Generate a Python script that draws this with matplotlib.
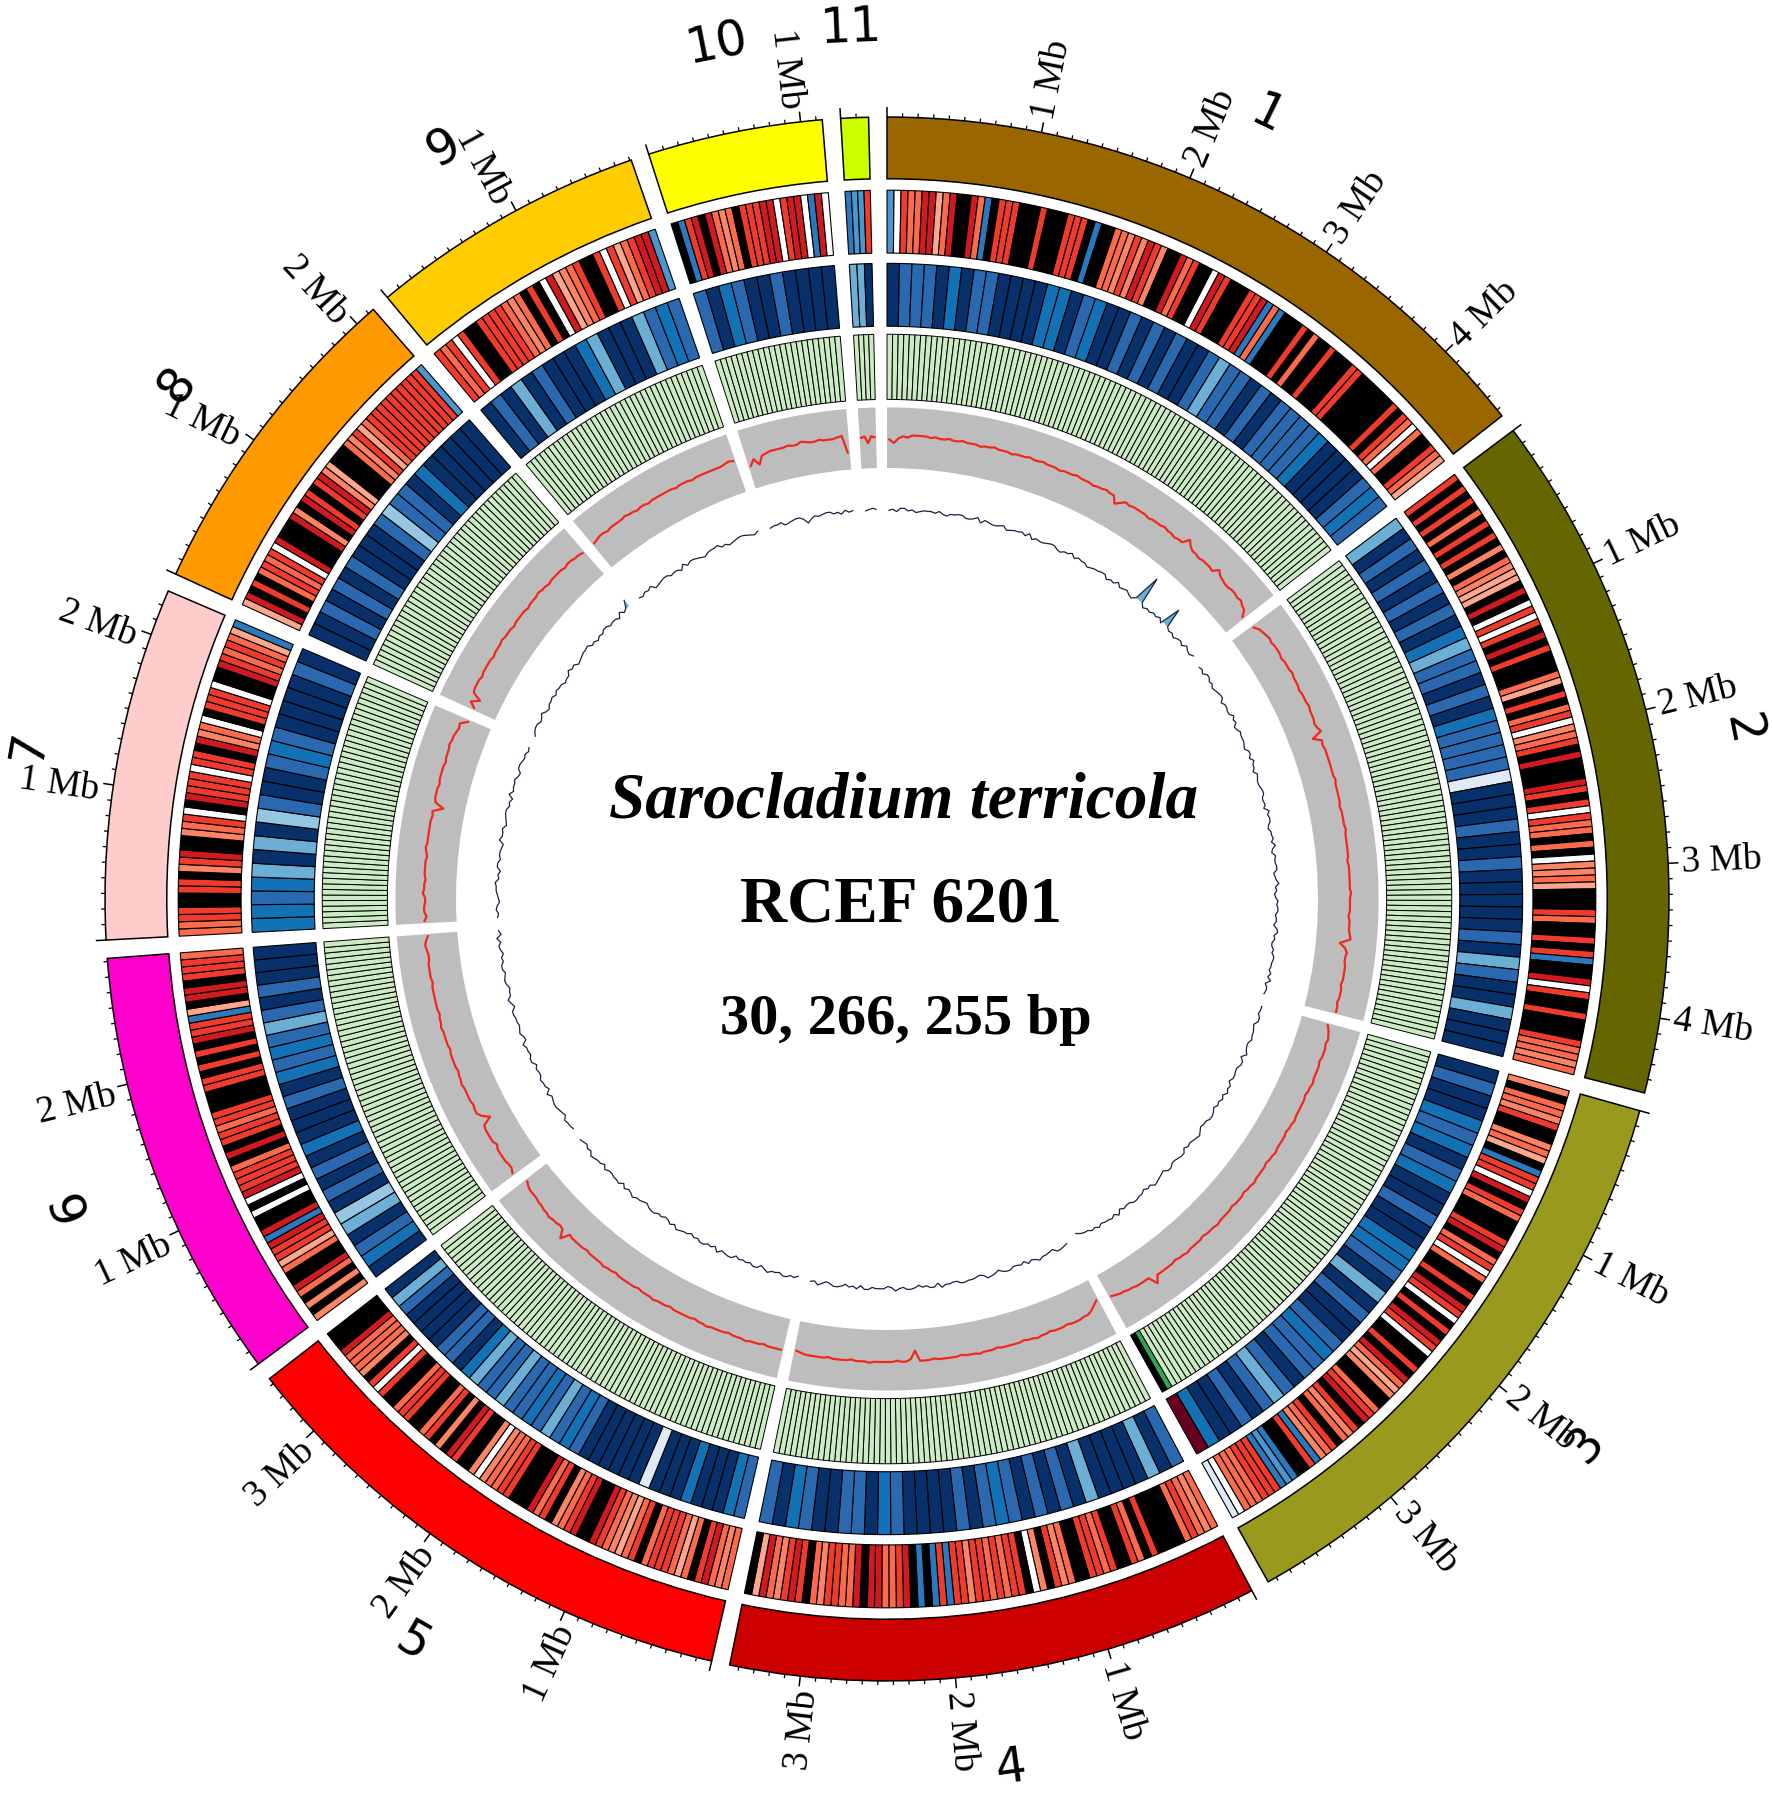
#!/usr/bin/env python3
# -*- coding: utf-8 -*-
import numpy as np
import matplotlib as mpl
mpl.use('Agg')
import matplotlib.pyplot as plt

#%% data
chrom_names = ['1', '2', '3', '4', '5', '6', '7', '8', '9', '10', '11']
chrom_mb = [4.55, 4.49, 3.96, 3.46, 3.44, 2.82, 2.30, 2.14, 1.81, 1.14, 0.18]
chrom_cols = ['#996600', '#666600', '#99991e', '#cc0000', '#ff0000', '#ff00cc',
              '#ffcccc', '#ff9900', '#ffcc00', '#ffff00', '#ccff00']

# one letter per 50 kb window
red_track = [
    'cwrooddlodkkdobkrrrkkkrkkkrrrkbkkoosrsdrskkdorkkwdrkkkrrdbobkkkrkokkrkkkrrkkkkkkrkrowokkrol',
    'rkrkrkokrkrkskosllkdkwrwrkdkrkkkolkrkorwsorkdkkkdrkrwrookokwssolkkkrokkrkrbkkdwrkkrkkkrooso',
    'skoosrkksolkbrrwdkrokkkrdkorwokkrkdrwkrkdrwkkrkdolskkordkrsokrosbrkkbcbrrrooowp',
    'osorokkkkrkorkkrorrkkosrkswkrrororrsrrbrbkbkdrooddkdoorrsokrdrsodlk',
    'osodrkolorrrokrolsordkkdroskrodkkkrroos' + 'wskkrdkskrokkrrokkrwrksooodkkk',
    'skskodkkolrrdbdkkwkwdrrrokdkrrorrkkkrrkrkrkdrrblkddkrrro',
    'oorrkkrrksrdkksorwkdrrrwrrkdsowkrrrwkkdrorolb',
    'ldkrkororwdkkkdskdrkrdslkkkosrlorrrrrrrrrrc',
    'rorwrkkrrrrosokrkwdlsorkkrwrlorddc',
    'kbrdkdosokrrrddwrddwbdw',
    'bccr',
]
red_cols = {'w': '#ffffff', 'l': '#fca68c', 's': '#fb8464', 'o': '#fb6a4a', 'r': '#ef3b2c',
            'd': '#cf1a20', 'k': '#000000', 'b': '#2b78bd', 'c': '#4a96cf', 'p': '#deebf7'}

# one letter per 100 kb window
blue_track = [
    'nbbbntnbbnnnnttnbtnnbnbnbnnbcbbnbnbbbbtnnnnbtb',
    'cnbnbnbnbntcbbnbntbbbbunnnbnnbnnnnnbncbnncnnn',
    'nbnntbtnbtnnbnnttbncnbnnbtbbnbcbnbnntx',
    'bncnnnncnbnbnbtbnbnnnnbtnbbnnbtnb',
    'btnnntnnnunnnnnnbtbcbtbbcbbctnbbnnnnbcn',
    'ntbncpnbnbntnnnbntbtbcbnbnnn',
    'ttbtcncnpbnnbtbnnnnbn',
    'nnbnbnbnnnbpbbntnnnnn',
    'nbncnbnnntcnnncbtb',
    'bntbnnbnnnn',
    'ccn',
]
blue_cols = {'n': '#08306b', 'b': '#2a69b0', 't': '#1272b5', 'c': '#6baed6',
             'p': '#95c6e2', 'u': '#deebf7', 'x': '#67001f'}

green_bins = [91, 90, 79, 69, 69, 56, 46, 43, 36, 23, 4]
green_fill = '#ccebc5'
# last windows of chromosome 3
green_tail = {2: ['#31a354', '#000000']}

# GC line, base 36 per 50 kb window, height above the inner edge of the grey band
gc_line = [
    'pmqsrtttts' 'tsstsstsss' 'rsstsssrss' 'stsstsssrs' 'sstsssrsst' 'ssmpsrssss' 'rssstssrss'
    'yussrsssrw' 'tsrrssrsqpk',
    'mpqrsrsssr' 'ssstsssrss' 'stsssrsuls' 'rsssssssts' 'ssssrsssst' 'ssssssrsss' 'ssstssssrs'
    'sstulqsrrs' 'sssrsssrss',
    'oqrsrsssrs' 'ssstssrsss' 'sstssrssss' 'tssrssssts' 'srsssrssss' 'tsssrsssst' 'ssrsssssyq'
    'qqqppoonm',
    'jmprrsssrs' 'ssrsstssrs' 'ssssrsssts' 'ssrsssssrs' 'ssjqssrsss' 'sstsssrsss' 'srsssssrq',
    'ssssrsssts' 'ssrsssstss' 'rsssssrsss' 'tsssrsssss' 'rsstssssrs' 'sssrzsrsst' 'ssrrqqqpn',
    'trrssssqss' 'ssrjpssrss' 'sstssrssss' 'rsssstssrs' 'sssssrssss' 'rrstsq',
    'sqssrrtssr' 'ssssrstsss' 'sssrsjrsss' 'rssssrssst' 'ssrqrl',
    'lqjrsssrss' 'ssrssstsss' 'rssssrssst' 'ssrssssrss' 'rrq',
    'qrssrsssst' 'ssrssrssss' 'ssrsssrsss' 'sssstut',
    'kpjqrsssst' 'ssutsstsss' 'tuf',
    'rsmsr',
]
gc_edge = 377.0

# coverage line, base 36 per 50 kb window, height above the base circle
cov_line = [
    '4536645345' '5546435566' '4457365445' '6345564735' '4456643557' '4655345566' '3547456436'
    'u63546574n' '64535647546',
    '4536645345' '6635544756' '3465554366' '4755365445' '6644537566' '4355647436' '5566345745'
    '3465664553' '6745335466' '5546473554',
    '5546634556' '4457366445' '5365746453' '5664435765' '4536654466' '3456745355' '6644537465'
    '546453320',
    '4566345575' '4635446653' '5674345566' '4455736645' '3566457435' '5546636453' '566435745',
    '3546645575' '3664545366' '5473546645' '3556746435' '4665345575' '4636554463' '556745345',
    '4556345665' '4735564453' '6645573465' '4556635744' '3565466453' '564735',
    '5465345667' '4536645543' '7556345664' '5374556436' '654534',
    '3566457435' '5646553447' '5634566745' '3546645537' '46c',
    '5465734566' '4553746654' '3566745345' '665435',
    '4556345664' '0354566453' '645',
    '4565',
]
cov_base = 336.0
cov_col = '#14243f'

name_rotation = {'3': 49, '4': 8, '5': -30}
# small moves of the chromosome numbers along and across the ring
name_shift_deg = {'3': -0.3, '8': -0.8, '9': -1.1}
name_shift_r = {'3': 4, '4': -4, '8': 4}
# this tick label sits flatter than the radial direction
label_rotation = {('8', 1): -26}

#%% geometry, radii in units of the 1550 px wide layout
gap_deg = 1.35
deg_per_mb = (360 - gap_deg * len(chrom_mb)) / sum(chrom_mb)
starts = np.cumsum([0] + [m * deg_per_mb + gap_deg for m in chrom_mb[:-1]])

r_ideo = (630, 684)
r_red = (565, 620)
r_blue = (501, 556)
r_green = (437, 494)
r_gray = (377, 430)
r_label = 696
r_name = 767
label_shift_deg = -0.3

px_per_unit = 1772 / 1550
half = 880
cx, cy = 887, 899
rmax = half / px_per_unit

fig = plt.figure(figsize=(17.72, 17.93), dpi=100)
ax = fig.add_axes([(cx - half) / 1772, (1793 - cy - half) / 1793, 2 * half / 1772, 2 * half / 1793],
                  projection='polar')
ax.set_theta_zero_location('N')
ax.set_theta_direction(-1)
ax.set_rlim(0, rmax)
ax.set_axis_off()


def cells(ax, start, span, codes, radii, lw=0.8):
    # colored windows, split evenly over the chromosome
    w = span / len(codes)
    th = np.radians(start + w * np.arange(len(codes)))
    ax.bar(th, radii[1] - radii[0], width=np.radians(w), bottom=radii[0], align='edge',
           color=codes, edgecolor='black', linewidth=lw)


for i, name in enumerate(chrom_names):
    start = starts[i]
    span = chrom_mb[i] * deg_per_mb

    # ideogram
    ax.bar(np.radians(start), r_ideo[1] - r_ideo[0], width=np.radians(span), bottom=r_ideo[0],
           align='edge', color=chrom_cols[i], edgecolor='black', linewidth=1.1)

    # scale
    tick_mb = np.arange(0, chrom_mb[i], 0.1)
    tick_th = np.radians(start + tick_mb * deg_per_mb)
    major = np.round(tick_mb * 10).astype(int) % 10 == 0
    ax.vlines(tick_th[~major], r_ideo[1], r_ideo[1] + 3.5, color='black', linewidth=0.9)
    ax.vlines(tick_th[major], r_ideo[1], r_ideo[1] + 9, color='black', linewidth=1.1)
    for mb in range(1, int(chrom_mb[i]) + 1):
        a = start + mb * deg_per_mb
        if a < 185:
            rot, ha = 90 - a, 'left'
        else:
            rot, ha = 270 - a, 'right'
        rot = label_rotation.get((name, mb), rot)
        ax.text(np.radians(a + label_shift_deg), r_label, f'{mb} Mb', rotation=rot,
                rotation_mode='anchor', ha=ha, va='center_baseline',
                family='Liberation Serif', fontsize=27)

    # chromosome number
    mid = start + span / 2
    rot = name_rotation.get(name, -mid)
    ax.text(np.radians(mid + name_shift_deg.get(name, 0)), r_name + name_shift_r.get(name, 0),
            name, rotation=rot, rotation_mode='anchor', ha='center', va='center_baseline',
            family='DejaVu Sans', fontsize=35)

    # heatmaps
    cells(ax, start, span, [red_cols[c] for c in red_track[i]], r_red)
    cells(ax, start, span, [blue_cols[c] for c in blue_track[i]], r_blue)
    greens = [green_fill] * green_bins[i]
    if i in green_tail:
        greens[-len(green_tail[i]):] = green_tail[i]
    cells(ax, start, span, greens, r_green, lw=0.7)

    # grey band with GC line
    ax.bar(np.radians(start), r_gray[1] - r_gray[0], width=np.radians(span), bottom=r_gray[0],
           align='edge', color='#bdbdbd', edgecolor='none')
    gc = np.array([int(c, 36) for c in gc_line[i]], dtype=float)
    th = np.radians(start + span * (np.arange(len(gc)) + 0.5) / len(gc))
    ax.plot(th, gc_edge + gc, color='#f0281e', linewidth=1.6)

    # coverage line, peaks are shaded blue
    cov = np.array([int(c, 36) for c in cov_line[i]], dtype=float)
    th = np.radians(start + span * (np.arange(len(cov)) + 0.5) / len(cov))
    ax.fill_between(th, cov_base + 6, cov_base + cov, where=cov > 8, color='#6baed6', linewidth=0,
                    interpolate=True)
    ax.plot(th, cov_base + cov, color=cov_col, linewidth=0.9)

#%% title
fig.text(790 / 1550, 1 - 701 / 1568, 'Sarocladium terricola', family='Liberation Serif',
         style='italic', weight='bold', fontsize=47, ha='center', va='center')
fig.text(788 / 1550, 1 - 792 / 1568, 'RCEF 6201', family='Liberation Serif',
         weight='bold', fontsize=47, ha='center', va='center')
fig.text(792 / 1550, 1 - 892 / 1568, '30, 266, 255 bp', family='Liberation Serif',
         weight='bold', fontsize=42, ha='center', va='center')

fig.savefig('out.png', dpi=100, facecolor='white')
